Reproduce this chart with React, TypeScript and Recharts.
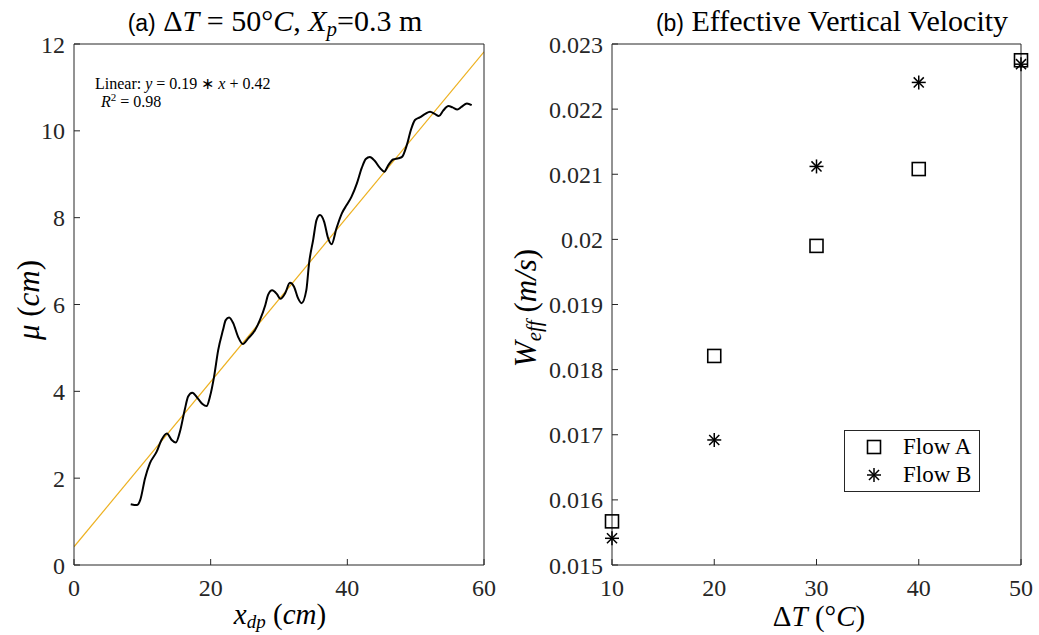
import { Legend, Line, LineChart, Scatter, ScatterChart, XAxis, YAxis } from "recharts"

// (a) wavy interface position vs downstream distance
const curveX = [
  8.3, 9.2, 9.7, 10.4, 11.1, 12.1, 12.8, 13.6, 14.3, 14.9, 15.5, 16.2, 16.7, 17.3, 18.2, 18.8, 19.4, 19.9, 20.5,
  21.1, 21.8, 22.2, 22.7, 23.3, 24.0, 24.7, 25.5, 26.5, 27.2, 28.0, 28.4, 29.0, 29.7, 30.2, 30.9, 31.6, 32.2,
  32.8, 33.3, 34.0, 34.4, 35.0, 35.5, 36.0, 36.6, 37.2, 37.7, 38.4, 39.2, 39.9, 40.6, 41.4, 42.1, 42.7, 43.3,
  44.0, 44.8, 45.4, 46.0, 46.7, 47.5, 48.0, 48.7, 49.3, 49.9, 50.6, 51.4, 52.1, 52.8, 53.4, 54.0, 54.8, 55.4,
  56.1, 56.7, 57.5, 58.2,
]
const curveMu = [
  1.4, 1.38, 1.5, 2.0, 2.34, 2.61, 2.88, 3.03, 2.88, 2.82, 3.07, 3.57, 3.88, 3.97, 3.82, 3.71, 3.66, 3.88, 4.34,
  4.95, 5.41, 5.64, 5.7, 5.57, 5.26, 5.09, 5.22, 5.41, 5.64, 5.99, 6.22, 6.33, 6.24, 6.13, 6.26, 6.5, 6.41,
  6.14, 6.03, 6.33, 6.95, 7.49, 7.95, 8.06, 7.91, 7.52, 7.39, 7.75, 8.1, 8.29, 8.48, 8.79, 9.14, 9.35, 9.4,
  9.31, 9.14, 9.06, 9.21, 9.34, 9.37, 9.4, 9.67, 10.02, 10.25, 10.31, 10.39, 10.44, 10.39, 10.34, 10.46, 10.57, 10.54,
  10.49, 10.55, 10.63, 10.59,
]
// linear fit end points
const fitX = [0, 60]
const fitMu = [0.42, 11.82]
const xdpTicks = [0, 20, 40, 60]
const muTicks = [0, 2, 4, 6, 8, 10, 12]

// (b) effective vertical velocity
const deltaT = [10, 20, 30, 40, 50]
const flowA = [0.01567, 0.01821, 0.0199, 0.02108, 0.02275]
const flowB = [0.01541, 0.01692, 0.02112, 0.02241, 0.02269]
const wTicks = [0.015, 0.016, 0.017, 0.018, 0.019, 0.02, 0.021, 0.022, 0.023]

const curveData = curveX.map((x, i) => ({ x, y: curveMu[i] }))
const fitData = fitX.map((x, i) => ({ x, y: fitMu[i] }))
const flowAData = deltaT.map((x, i) => ({ x, y: flowA[i] }))
const flowBData = deltaT.map((x, i) => ({ x, y: flowB[i] }))

const serif = "'Liberation Serif', 'Times New Roman', serif"
const sans = "'Liberation Sans', Arial, sans-serif"
const ink = "#262626"
const tickFont = { fill: ink, fontSize: 24, fontFamily: serif }

function Square({ cx, cy }: any) {
  return <rect x={cx - 6.5} y={cy - 6.5} width={13} height={13} fill="none" stroke="#000" strokeWidth={1.6} />
}

function Star({ cx, cy }: any) {
  const r = 7
  const d = r * 0.72
  return (
    <g stroke="#000" strokeWidth={1.5}>
      <line x1={cx} y1={cy - r} x2={cx} y2={cy + r} />
      <line x1={cx - r} y1={cy} x2={cx + r} y2={cy} />
      <line x1={cx - d} y1={cy - d} x2={cx + d} y2={cy + d} />
      <line x1={cx - d} y1={cy + d} x2={cx + d} y2={cy - d} />
    </g>
  )
}

function FlowLegend() {
  const rows = [
    { name: "Flow A", Marker: Square },
    { name: "Flow B", Marker: Star },
  ]
  return (
    <div
      style={{
        border: `1px solid ${ink}`,
        background: "#fff",
        width: 134,
        height: 58,
        paddingTop: 2,
        boxSizing: "content-box",
      }}
    >
      {rows.map(({ name, Marker }) => (
        <div key={name} style={{ display: "flex", alignItems: "center", height: 28 }}>
          <svg width={18} height={18} style={{ marginLeft: 20 }}>
            <Marker cx={9} cy={9} />
          </svg>
          <span style={{ marginLeft: 20, fontFamily: serif, fontSize: 23, color: "#000" }}>{name}</span>
        </div>
      ))}
    </div>
  )
}

function PanelA() {
  return (
    <LineChart width={520} height={635} margin={{ top: 43, right: 35, bottom: 0, left: 0 }}>
      <XAxis xAxisId="b" dataKey="x" type="number" domain={[0, 60]} ticks={xdpTicks} height={70}
        tickSize={-6} tickMargin={20} stroke={ink} tick={tickFont} allowDataOverflow />
      <XAxis xAxisId="t" orientation="top" dataKey="x" type="number" domain={[0, 60]} ticks={xdpTicks} height={1}
        tickSize={-6} tick={false} stroke={ink} allowDataOverflow />
      <YAxis yAxisId="l" type="number" domain={[0, 12]} ticks={muTicks} width={74}
        tickSize={-6} tickMargin={15} stroke={ink} tick={tickFont} allowDataOverflow />
      <YAxis yAxisId="r" orientation="right" type="number" domain={[0, 12]} ticks={muTicks} width={1}
        tickSize={-6} tick={false} stroke={ink} allowDataOverflow />
      <Line xAxisId="b" yAxisId="l" data={fitData} dataKey="y" stroke="#EDB120" strokeWidth={1.2}
        dot={false} isAnimationActive={false} />
      <Line xAxisId="t" yAxisId="r" data={curveData} dataKey="y" type="monotone" stroke="#000" strokeWidth={2}
        dot={false} isAnimationActive={false} />
    </LineChart>
  )
}

function PanelB() {
  return (
    <ScatterChart width={519} height={635} margin={{ top: 43, right: 17, bottom: 0, left: 0 }}>
      <XAxis xAxisId="b" dataKey="x" type="number" domain={[10, 50]} ticks={deltaT} height={70}
        tickSize={-6} tickMargin={20} stroke={ink} tick={tickFont} />
      <XAxis xAxisId="t" orientation="top" dataKey="x" type="number" domain={[10, 50]} ticks={deltaT} height={1}
        tickSize={-6} tick={false} stroke={ink} />
      <YAxis yAxisId="l" dataKey="y" type="number" domain={[0.015, 0.023]} ticks={wTicks} width={92}
        tickSize={-6} tickMargin={15} stroke={ink} tick={tickFont}
        tickFormatter={(v: number) => String(+v.toFixed(3))} />
      <YAxis yAxisId="r" orientation="right" dataKey="y" type="number" domain={[0.015, 0.023]} ticks={wTicks}
        width={1} tickSize={-6} tick={false} stroke={ink} />
      <Scatter name="Flow A" xAxisId="b" yAxisId="l" data={flowAData} shape={Square} isAnimationActive={false} />
      <Scatter name="Flow B" xAxisId="t" yAxisId="r" data={flowBData} shape={Star} isAnimationActive={false} />
      <Legend layout="horizontal" verticalAlign="middle" align="center" content={FlowLegend}
        wrapperStyle={{ left: 324, top: 430, width: "auto" }} />
    </ScatterChart>
  )
}

export default function App() {
  return (
    <div style={{ position: "absolute", left: 0, top: 0, width: 1039, height: 635, background: "#fff" }}>
      <div style={{ position: "absolute", left: 0, top: 0 }}>
        <PanelA />
      </div>
      <div style={{ position: "absolute", left: 520, top: 0 }}>
        <PanelB />
      </div>
      <svg width={1039} height={635} style={{ position: "absolute", left: 0, top: 0, pointerEvents: "none" }}>
        <g fontFamily={serif} fill="#000">
          <text x={275} y={31} textAnchor="middle" fontSize={30}>
            <tspan fontFamily={sans} fontSize={23}>(a)</tspan>
            <tspan> Δ</tspan>
            <tspan fontStyle="italic">T</tspan>
            <tspan> = 50°</tspan>
            <tspan fontStyle="italic">C</tspan>
            <tspan>, </tspan>
            <tspan fontStyle="italic">X</tspan>
            <tspan fontStyle="italic" fontSize={21} dy={5}>p</tspan>
            <tspan dy={-5}>=0.3 m</tspan>
          </text>
          <text x={832} y={31} textAnchor="middle" fontSize={30}>
            <tspan fontFamily={sans} fontSize={23}>(b)</tspan>
            <tspan> Effective Vertical Velocity</tspan>
          </text>
          <text x={95} y={89} fontSize={16}>
            Linear: <tspan fontStyle="italic">y</tspan> = 0.19 ∗ <tspan fontStyle="italic">x</tspan> + 0.42
          </text>
          <text x={101} y={107} fontSize={16}>
            <tspan fontStyle="italic">R</tspan>
            <tspan fontSize={11} dy={-6}>2</tspan>
            <tspan dy={6}> = 0.98</tspan>
          </text>
          <text x={280} y={624} textAnchor="middle" fontSize={29}>
            <tspan fontStyle="italic">x</tspan>
            <tspan fontStyle="italic" fontSize={19} dy={4}>dp</tspan>
            <tspan dy={-4}> (</tspan>
            <tspan fontStyle="italic">cm</tspan>
            <tspan>)</tspan>
          </text>
          <text transform="translate(39,300) rotate(-90)" textAnchor="middle" fontSize={31}>
            <tspan fontStyle="italic">μ</tspan>
            <tspan> (</tspan>
            <tspan fontStyle="italic">cm</tspan>
            <tspan>)</tspan>
          </text>
          <text x={819} y={626} textAnchor="middle" fontSize={29}>
            <tspan>Δ</tspan>
            <tspan fontStyle="italic">T</tspan>
            <tspan> (°</tspan>
            <tspan fontStyle="italic">C</tspan>
            <tspan>)</tspan>
          </text>
          <text transform="translate(536,308) rotate(-90)" textAnchor="middle" fontSize={31}>
            <tspan fontStyle="italic">W</tspan>
            <tspan fontStyle="italic" fontSize={21} dy={5}>eff</tspan>
            <tspan dy={-5}> (</tspan>
            <tspan fontStyle="italic">m/s</tspan>
            <tspan>)</tspan>
          </text>
        </g>
      </svg>
    </div>
  )
}
